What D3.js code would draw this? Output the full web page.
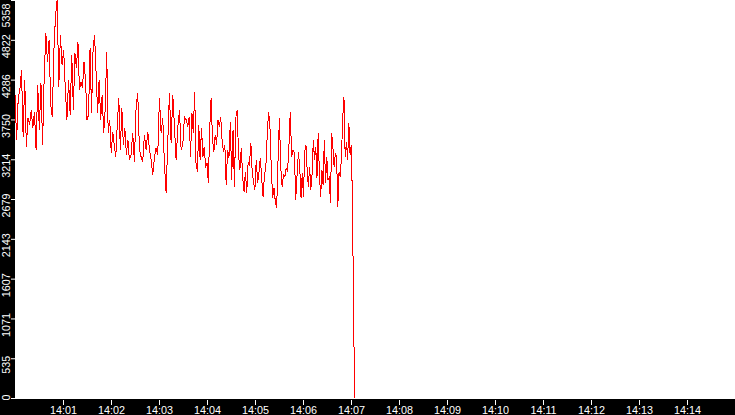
<!DOCTYPE html>
<html>
<head>
<meta charset="utf-8">
<script src="https://cdn.jsdelivr.net/npm/d3@7"></script>
<style>
  html, body { margin: 0; padding: 0; background: #fff; }
  svg { display: block; }
  text { font-family: "Liberation Sans", Arial, sans-serif; font-size: 10.8px; }
</style>
</head>
<body>
<svg id="chart" width="735" height="415"></svg>
<script>
// ---- data ----
// boundaries (clock times) of the six stretches of samples
const chunkBounds = ["14:00:00", "14:01:13", "14:02:23", "14:03:36", "14:04:48", "14:05:56", "14:07:05"];
const seg1 = [4082, 3477, 4042, 4149, 4418, 3517, 4284, 3383, 3773, 3679, 3880, 3638, 3854, 3342, 4217, 3611,
  4244, 3410, 4324, 4916, 4526, 4822, 3948, 3786, 4687, 5158, 5358, 4190, 4889, 4486, 4687, 4176, 3746, 4284, 3813, 4620];
const seg2 = [3880, 4647, 4445, 4795, 4149, 4257, 4176, 4526, 4284, 3746, 3813, 4714, 3840, 4687, 4889, 4378,
  3840, 4284, 3746, 4082, 3571, 3880, 4661, 3571, 3746, 3302, 3585, 3410, 3248, 3679, 4042, 3342, 3907, 3410, 3638, 3275, 3477];
const seg3 = [3208, 3275, 3571, 3181, 3907, 4109, 3342, 3248, 3181, 3544, 3342, 3585, 3342, 3208, 3006, 3235,
  3369, 3275, 4042, 3571, 3773, 3141, 2764, 3450, 4109, 3437, 4082, 3652, 3208, 3638, 3880, 3342, 3410, 3786, 3746];
const seg4 = [3652, 3786, 3248, 3840, 3571, 4123, 3168, 3047, 3679, 3208, 3638, 3248, 3383, 3100, 3168, 2899,
  3638, 4042, 3477, 3316, 3544, 3410, 3746, 3652, 3786, 3477, 3316, 3410, 2872, 3342, 3235, 3719, 2939, 3611,
  2845, 3773, 3880, 3275, 3074, 3369, 2966, 2778];
const seg5 = [3047, 2764, 3168, 3141, 3437, 3047, 2899, 2805, 3208, 2899, 3047, 3235, 2939, 2710, 3006, 3100,
  3517, 3854, 3679, 3114, 2697, 2831, 2643, 2562, 3208, 3773, 3100, 2845, 3006, 2979, 3100, 3047, 3383, 3854,
  3248, 3342, 3302, 2670, 3006, 3316];
const seg6 = [3074, 2697, 3033, 2710, 3316, 3410, 3074, 2845, 3114, 2805, 3006, 3477, 3208, 3383, 2966, 3571,
  3006, 2710, 3074, 2872, 3477, 2899, 3248, 2939, 2966, 2630, 3571, 3369, 3114, 3302, 3235, 2576, 3047, 2979,
  3275, 3773, 4055, 3248, 3450, 3208, 3706, 3275, 3410, 2562, 854, 0];
const segments = [seg1, seg2, seg3, seg4, seg5, seg6];

const yTicks = [0, 535, 1071, 1607, 2143, 2679, 3214, 3750, 4286, 4822, 5358];
const xTickLabels = ["14:01", "14:02", "14:03", "14:04", "14:05", "14:06", "14:07",
  "14:08", "14:09", "14:10", "14:11", "14:12", "14:13", "14:14"];
const xDomainLabels = ["14:00:00", "14:15:00"];

// ---- build ----
const W = 735, H = 415;
const parseT = d3.timeParse("%H:%M:%S");
const parseM = d3.timeParse("%H:%M");

const data = [];
segments.forEach((seg, i) => {
  const t0 = parseT(chunkBounds[i]).getTime();
  const t1 = parseT(chunkBounds[i + 1]).getTime();
  const last = i === segments.length - 1;
  const step = (t1 - t0) / (last ? seg.length - 1 : seg.length);
  seg.forEach((v, j) => data.push({ t: new Date(t0 + j * step), v }));
});

const svg = d3.select("#chart");

const x = d3.scaleTime().domain(xDomainLabels.map(parseT)).range([15, 735]);
const y = d3.scaleLinear().domain([0, 5358]).range([398, 0]);

svg.append("rect").attr("x", 0).attr("y", 0).attr("width", W).attr("height", H).attr("fill", "#fff");

// line
const line = d3.line().x(d => x(d.t)).y(d => y(d.v));
svg.append("path")
  .datum(data)
  .attr("d", line)
  .attr("fill", "none")
  .attr("stroke", "#ff0000")
  .attr("stroke-width", 1)
  .attr("shape-rendering", "crispEdges");

// black bands
svg.append("rect").attr("x", 0).attr("y", 0).attr("width", 15).attr("height", H).attr("fill", "#000");
svg.append("rect").attr("x", 0).attr("y", 399).attr("width", W).attr("height", H - 399).attr("fill", "#000");

// y axis
const yAxis = svg.append("g")
  .attr("transform", "translate(15,0)")
  .attr("color", "#fff")
  .call(d3.axisLeft(y).tickValues(yTicks).tickSize(4).tickFormat(d3.format("d")));
yAxis.select(".domain").remove();
yAxis.selectAll(".tick line").attr("stroke", "#fff");
yAxis.selectAll(".tick text")
  .attr("fill", "#fff")
  .attr("x", 0).attr("y", 0).attr("dy", 0)
  .attr("text-anchor", "middle")
  .each(function (d) {
    const w = this.getComputedTextLength();
    const ty = y(d);
    let cy = ty + 6;
    cy = Math.max(3 + w / 2, Math.min(400 - w / 2, cy));
    d3.select(this).attr("transform", `translate(-5,${cy - ty}) rotate(-90)`);
  });

// x axis
const xAxis = svg.append("g")
  .attr("transform", "translate(0,400)")
  .attr("color", "#fff")
  .call(d3.axisBottom(x).tickValues(xTickLabels.map(parseM)).tickSize(5).tickFormat(d3.timeFormat("%H:%M")));
xAxis.select(".domain").remove();
xAxis.selectAll(".tick line").attr("stroke", "#fff");
xAxis.selectAll(".tick text").attr("fill", "#fff").attr("y", 14).attr("dy", 0);
</script>
</body>
</html>
